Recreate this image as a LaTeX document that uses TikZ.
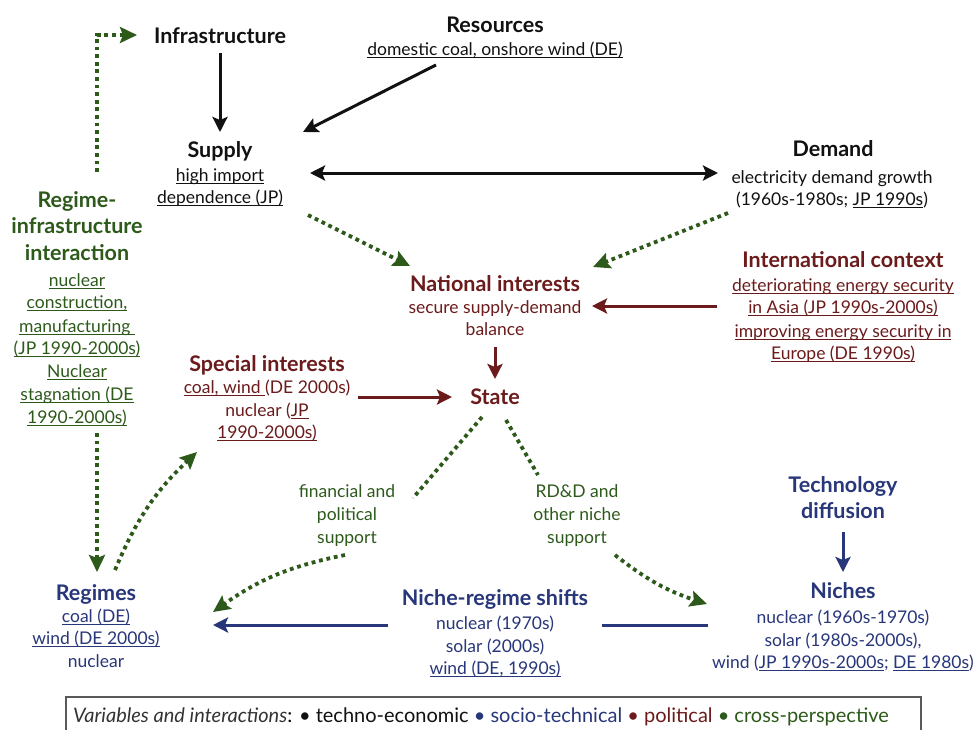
\documentclass[tikz,border=0pt]{standalone}
\usepackage{fontspec}
\setmainfont{Lato}
\usetikzlibrary{arrows.meta}
\definecolor{cred}{HTML}{6B1B1B}
\definecolor{cgreen}{HTML}{2D5A1B}
\definecolor{cblue}{HTML}{28367A}
\definecolor{cblack}{HTML}{111111}
\newcommand{\und}[1]{\setbox0\hbox{#1}\rlap{\rule[-3pt]{\wd0}{1.1pt}}\box0}
\tikzset{
  every node/.style={inner sep=0pt, anchor=base},
  ttl/.style={font=\fontsize{21.5}{24}\selectfont\bfseries},
  sub/.style={font=\fontsize{17.5}{20}\selectfont},
  tec/.style={text=cblack},
  pol/.style={text=cred},
  soc/.style={text=cblue},
  crs/.style={text=cgreen},
  solidarr/.style={line width=3pt, -{Stealth[length=15pt,width=15pt,inset=3pt]}},
  dotline/.style={cgreen, line width=3.8pt, dash pattern=on 3.8pt off 3.8pt},
  dotarr/.style={dotline, -{Stealth[length=17pt,width=16pt,inset=3pt]}},
}
\begin{document}
\begin{tikzpicture}[x=1pt,y=-1pt]
\useasboundingbox (0,0) rectangle (974,729);
\fill[white] (0,0) rectangle (974,729);
% techno-economic
\node[ttl,tec] (infra) at (220,43) {Infrastructure};
\node[ttl,tec] (res) at (495,32) {Resources};
\node[sub,tec] (res2) at (495,55) {\und{domestic coal, onshore wind (DE)}};
\node[ttl,tec] (supply) at (220,157) {Supply};
\node[sub,tec] (supply2) at (220,181) {\und{high import}};
\node[sub,tec] (supply3) at (220,203) {\und{dependence (JP)}};
\node[ttl,tec] (demand) at (833,156) {Demand};
\node[sub,tec] (demand2) at (832,183) {electricity demand growth};
\node[sub,tec] (demand3) at (832,205) {(1960s-1980s; \und{JP 1990s})};
% political
\node[ttl,pol] (intl) at (843,267) {International context};
\node[sub,pol] (intl2) at (843,291) {\und{deteriorating energy security}};
\node[sub,pol] (intl3) at (843,313) {\und{in Asia (JP 1990s-2000s)}};
\node[sub,pol] (intl4) at (843,337) {\und{improving energy security in}};
\node[sub,pol] (intl5) at (843,359) {\und{Europe (DE 1990s)}};
\node[ttl,pol] (nat) at (495,291) {National interests};
\node[sub,pol] (nat2) at (495,313) {secure supply-demand};
\node[sub,pol] (nat3) at (495,335) {balance};
\node[ttl,pol] (state) at (495,404) {State};
\node[ttl,pol] (spec) at (267,371) {Special interests};
\node[sub,pol] (spec2) at (267,393) {\und{coal, wind }(DE 2000s)};
\node[sub,pol] (spec3) at (267,416) {nuclear (\und{JP}};
\node[sub,pol] (spec4) at (267,438) {\und{1990-2000s)}};
% cross-perspective
\node[ttl,crs] (rii1) at (77,207) {Regime-};
\node[ttl,crs] (rii2) at (77,233) {infrastructure};
\node[ttl,crs] (rii3) at (77,260) {interaction};
\node[sub,crs] (rii4) at (77,286) {\und{nuclear}};
\node[sub,crs] (rii5) at (77,308) {\und{construction,}};
\node[sub,crs] (rii6) at (77,332) {\und{manufacturing\ }};
\node[sub,crs] (rii7) at (77,354) {\und{(JP 1990-2000s)}};
\node[sub,crs] (rii8) at (77,377) {\und{Nuclear}};
\node[sub,crs] (rii9) at (77,400) {\und{stagnation (DE}};
\node[sub,crs] (rii10) at (77,423) {\und{1990-2000s)}};
\node[sub,crs] (fin1) at (347,497) {financial and};
\node[sub,crs] (fin2) at (347,520) {political};
\node[sub,crs] (fin3) at (347,543) {support};
\node[sub,crs] (rdd1) at (577,497) {RD\&D and};
\node[sub,crs] (rdd2) at (577,520) {other niche};
\node[sub,crs] (rdd3) at (577,543) {support};
% socio-technical
\node[ttl,soc] (regimes) at (96,600) {Regimes};
\node[sub,soc] (reg2) at (96,622) {\und{coal (DE)}};
\node[sub,soc] (reg3) at (96,644) {\und{wind (DE 2000s)}};
\node[sub,soc] (reg4) at (96,667) {nuclear};
\node[ttl,soc] (nrs) at (495,605) {Niche-regime shifts};
\node[sub,soc] (nrs2) at (495,629) {nuclear (1970s)};
\node[sub,soc] (nrs3) at (495,652) {solar (2000s)};
\node[sub,soc] (nrs4) at (495,674) {\und{wind (DE, 1990s)}};
\node[ttl,soc] (tech) at (843,492) {Technology};
\node[ttl,soc] (tech2) at (843,518) {diffusion};
\node[ttl,soc] (niches) at (843,598) {Niches};
\node[sub,soc] (niches2) at (843,623) {nuclear (1960s-1970s)};
\node[sub,soc] (niches3) at (843,646) {solar (1980s-2000s),};
\node[sub,soc] (niches4) at (843,668) {wind (\und{JP 1990s-2000s}; \und{DE 1980s})};
% legend
\draw[line width=1.2pt, draw=black!65] (66,697) rectangle (921,745);
\node[anchor=base west, font=\fontsize{20}{22}\selectfont] (legend) at (73,722)
  {\textcolor{black!80}{\textit{Variables and interactions}}: \textcolor{cblack}{• techno-economic} \textcolor{cblue}{• socio-technical} \textcolor{cred}{• political} \textcolor{cgreen}{• cross-perspective}};
% connectors: techno-economic
\draw[solidarr, cblack] ([shift={(0,10)}]infra.base) -- ([shift={(0,-25)}]supply.base);
\draw[solidarr, cblack] ([shift={(-59,10)}]res2.base) -- ([shift={(83,-25)}]supply.base);
\draw[solidarr, cblack, {Stealth[length=15pt,width=15pt,inset=3pt]}-{Stealth[length=15pt,width=15pt,inset=3pt]}] ([shift={(90,16)}]supply.base) -- ([shift={(-115,17)}]demand.base);
% political
\draw[solidarr, cred] ([shift={(-126,39)}]intl.base) -- ([shift={(97,15)}]nat.base);
\draw[solidarr, cred] ([shift={(0,56)}]nat.base) -- ([shift={(0,-25)}]state.base);
\draw[solidarr, cred] ([shift={(91,26)}]spec.base) -- ([shift={(-43,-7)}]state.base);
% socio-technical
\draw[solidarr, cblue] ([shift={(-107,20)}]nrs.base) -- ([shift={(117,25)}]regimes.base);
\draw[line width=3pt, cblue] ([shift={(-135,27)}]niches.base) -- ([shift={(107,20)}]nrs.base);
\draw[solidarr, cblue] ([shift={(0,14)}]tech2.base) -- ([shift={(0,-26)}]niches.base);
% cross-perspective
\draw[dotarr] ([shift={(88,58)}]supply.base) -- ([shift={(-85,-25)}]nat.base);
\draw[dotarr] ([shift={(-105,57)}]demand.base) -- ([shift={(98,-24)}]nat.base);
\draw[dotline] ([shift={(-13,13)}]state.base) -- ([shift={(66,1)}]fin1.base);
\draw[dotarr] ([shift={(-2,12)}]fin3.base) to[bend right=12] ([shift={(117,12)}]regimes.base);
\draw[dotline] ([shift={(11,16)}]state.base) -- ([shift={(-39,-22)}]rdd1.base);
\draw[dotarr] ([shift={(38,12)}]rdd3.base) to[bend right=10] ([shift={(-136,6)}]niches.base);
\draw[dotarr] ([shift={(20,-35)}]rii1.base) |- ([shift={(-83,-8)}]infra.base);
\draw[dotarr] ([shift={(20,10)}]rii10.base) -- ([shift={(1,-28)}]regimes.base);
\draw[dotarr] ([shift={(19,-30)}]regimes.base) to[bend left=12] ([shift={(-70,14)}]spec4.base);
\end{tikzpicture}
\end{document}
